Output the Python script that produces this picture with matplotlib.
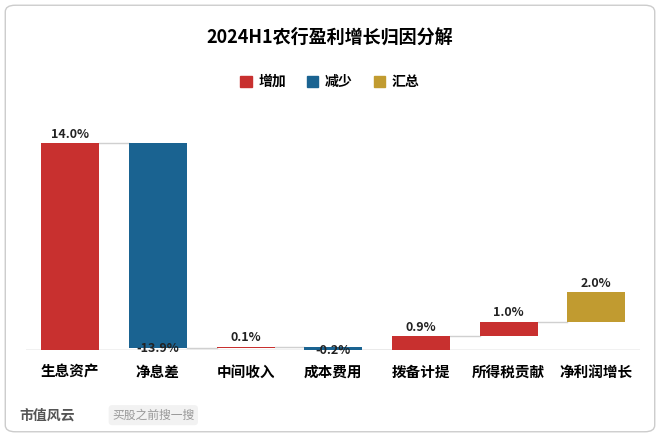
import numpy as np
import matplotlib.pyplot as plt
from matplotlib.patches import FancyBboxPatch, Patch

plt.rcParams['font.family'] = ['Noto Sans CJK SC', 'DejaVu Sans']

categories = ['生息资产', '净息差', '中间收入', '成本费用', '拨备计提', '所得税贡献', '净利润增长']
changes = [14.0, -13.9, 0.1, -0.2, 0.9, 1.0, 2.0]
labels = ['14.0%', '-13.9%', '0.1%', '-0.2%', '0.9%', '1.0%', '2.0%']

red, blue, gold = '#C8302F', '#1A6391', '#C19B30'

fig = plt.figure(figsize=(6.6, 4.37), dpi=100)
fig.patches.append(FancyBboxPatch((0.008, 0.012), 0.984, 0.976, boxstyle='round,pad=0,rounding_size=0.015',
                                  transform=fig.transFigure, fill=False, ec='#CCCCCC', lw=1))
ax = fig.add_axes([0.04, 0.2, 0.93, 0.55])

x = np.arange(len(categories))
bottoms, colors = [], []
cum = 0.0
for i, v in enumerate(changes):
    if i == len(changes) - 1:
        bottoms.append(cum)
        colors.append(gold)
        continue
    if v >= 0:
        bottoms.append(cum)
        colors.append(red)
    else:
        bottoms.append(cum + v)
        colors.append(blue)
    cum += v
heights = [abs(v) for v in changes]
ax.bar(x, heights, bottom=bottoms, width=0.66, color=colors, zorder=3)

# connectors
levels = np.cumsum(changes[:-1])
for i, lv in enumerate(levels):
    ax.plot([x[i] + 0.33, x[i + 1] - 0.33], [lv, lv], color='#D0D0D0', lw=1, zorder=2)

for i, (b, h, lab) in enumerate(zip(bottoms, heights, labels)):
    if changes[i] < 0:
        ax.text(x[i], b - 0.05, lab, ha='center', va='center', fontsize=9, fontweight='bold', color='#222222', zorder=4)
    else:
        ax.text(x[i], b + h + 0.15, lab, ha='center', va='bottom', fontsize=9, fontweight='bold', color='#222222')

ax.axhline(0, color='#BBBBBB', lw=1, zorder=1)
ax.set_xlim(-0.5, len(categories) - 0.5)
ax.set_ylim(0, 14.0 / 0.86)
ax.set_xticks(x)
ax.set_xticklabels(categories, fontsize=10.5, fontweight='bold')
ax.tick_params(axis='x', length=0, pad=10)
ax.set_yticks([])
for s in ax.spines.values():
    s.set_visible(False)

fig.text(0.5, 0.915, '2024H1农行盈利增长归因分解', ha='center', va='center', fontsize=13, fontweight='bold')
handles = [Patch(color=red), Patch(color=blue), Patch(color=gold)]
fig.legend(handles, ['增加', '减少', '汇总'], loc='center', bbox_to_anchor=(0.5, 0.812), ncol=3,
           frameon=False, prop={'size': 10, 'weight': 'bold'}, handlelength=0.8, handleheight=0.8,
           columnspacing=1.5, handletextpad=0.5)

fig.text(0.03, 0.05, '市值风云', fontsize=10, fontweight='bold', color='#555555', va='center')
fig.text(0.17, 0.05, '买股之前搜一搜', fontsize=8.5, color='#999999', va='center',
         bbox=dict(boxstyle='round,pad=0.3', fc='#F2F2F2', ec='none'))

fig.savefig('out.png', dpi=100)
